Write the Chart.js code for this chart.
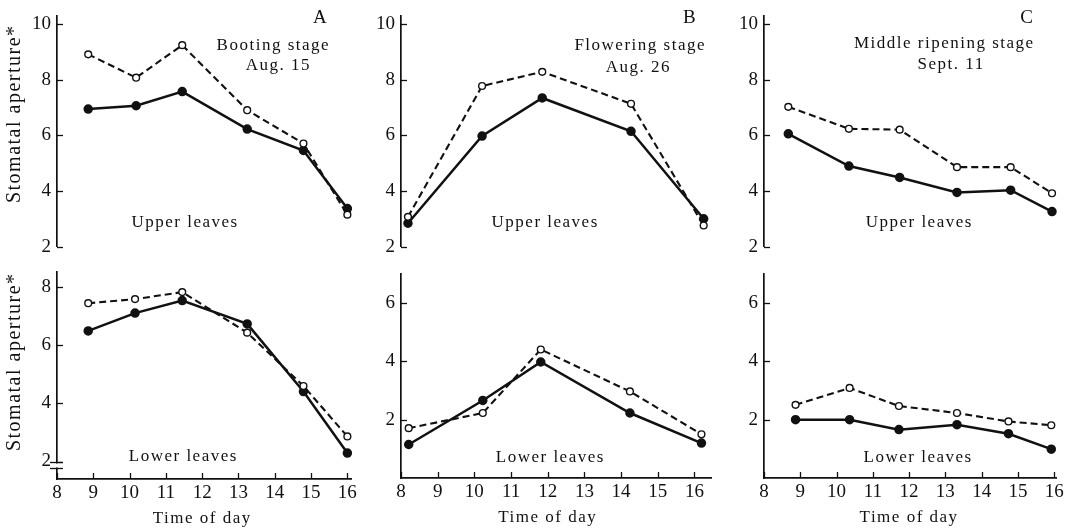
<!DOCTYPE html>
<html>
<head>
<meta charset="utf-8">
<script src="https://cdn.jsdelivr.net/npm/chart.js@4.4.1/dist/chart.umd.min.js"></script>
<style>
body { margin: 0; background: #fff; width: 1070px; height: 529px; position: relative; overflow: hidden; }
.panel { position: absolute; }
</style>
</head>
<body>
<div class="panel" id="pAU"><canvas id="cAU"></canvas></div>
<div class="panel" id="pAL"><canvas id="cAL"></canvas></div>
<div class="panel" id="pBU"><canvas id="cBU"></canvas></div>
<div class="panel" id="pBL"><canvas id="cBL"></canvas></div>
<div class="panel" id="pCU"><canvas id="cCU"></canvas></div>
<div class="panel" id="pCL"><canvas id="cCL"></canvas></div>
<script>
// tick labels
const xTicks = [8, 9, 10, 11, 12, 13, 14, 15, 16];
const yTicksUpper = [2, 4, 6, 8, 10];
const yTicksLowerA = [2, 4, 6, 8];
const yTicksLowerBC = [2, 4, 6];

// A - booting stage, Aug. 15
const timeAUp = [8.86, 10.18, 11.45, 13.24, 14.79, 16.0];
const openAUp = [8.92, 8.08, 9.25, 6.91, 5.71, 3.15];
const filledAUp = [6.95, 7.07, 7.58, 6.23, 5.46, 3.37];
const timeALow = [8.86, 10.15, 11.45, 13.24, 14.79, 16.0];
const openALow = [7.43, 7.57, 7.81, 6.42, 4.59, 2.86];
const filledALow = [6.48, 7.09, 7.52, 6.72, 4.40, 2.29];

// B - flowering stage, Aug. 26
const timeBUp = [8.19, 10.21, 11.85, 14.27, 16.25];
const openBUp = [3.07, 7.78, 8.29, 7.14, 2.76];
const filledBUp = [2.84, 5.98, 7.35, 6.15, 3.00];
const timeBLow = [8.21, 10.23, 11.81, 14.24, 16.19];
const openBLow = [1.71, 2.23, 4.41, 2.97, 1.50];
const filledBLow = [1.15, 2.66, 3.98, 2.23, 1.20];

// C - middle ripening stage, Sept. 11
const timeCUp = [8.67, 10.34, 11.74, 13.32, 14.80, 15.94];
const openCUp = [7.03, 6.24, 6.21, 4.86, 4.86, 3.92];
const filledCUp = [6.06, 4.90, 4.49, 3.95, 4.03, 3.26];
const timeCLow = [8.87, 10.36, 11.72, 13.32, 14.74, 15.92];
const openCLow = [2.51, 3.09, 2.47, 2.23, 1.94, 1.81];
const filledCLow = [2.00, 2.00, 1.66, 1.83, 1.52, 0.99];

const FONT = "'Liberation Serif', 'DejaVu Serif', serif";
const INK = "#111";
const ML = 60, MT = 20, MR = 20;

function pts(xs, ys) {
    return xs.map((x, i) => ({ x: x, y: ys[i] }));
}

const panelText = {
    id: "panelText",
    afterDraw(chart, args, o) {
        const ctx = chart.ctx;
        const xs = chart.scales.x, ys = chart.scales.y;
        const a = chart.chartArea;
        ctx.save();
        ctx.strokeStyle = INK;
        ctx.fillStyle = INK;
        ctx.lineWidth = 1.3;

        // inward ticks
        ys.ticks.forEach(t => {
            const py = Math.round(ys.getPixelForValue(t.value)) + 0.5;
            ctx.beginPath();
            ctx.moveTo(a.left, py);
            ctx.lineTo(a.left + 6, py);
            ctx.stroke();
        });
        if (o.lower) {
            xs.ticks.forEach(t => {
                const px = Math.round(xs.getPixelForValue(t.value)) + 0.5;
                ctx.beginPath();
                ctx.moveTo(px, a.bottom);
                ctx.lineTo(px, a.bottom - 6);
                ctx.stroke();
            });
        }

        // axis break
        if (o.breakAt) {
            const p1 = Math.round(ys.getPixelForValue(o.breakAt[0])) + 0.5;
            const p2 = Math.round(ys.getPixelForValue(o.breakAt[1])) + 0.5;
            ctx.fillStyle = "#fff";
            ctx.fillRect(a.left - 2, p1 + 1, 4, p2 - p1 - 2);
            ctx.fillStyle = INK;
            [p1, p2].forEach(p => {
                ctx.beginPath();
                ctx.moveTo(a.left - 7, p);
                ctx.lineTo(a.left + 6, p);
                ctx.stroke();
            });
        }

        ctx.letterSpacing = "1.5px";
        ctx.textAlign = "center";
        ctx.textBaseline = "middle";
        (o.notes || []).forEach(n => {
            ctx.font = (n.size || 17) + "px " + FONT;
            ctx.fillText(n.text, xs.getPixelForValue(n.x), ys.getPixelForValue(n.y));
        });

        if (o.lower) {
            ctx.font = "17px " + FONT;
            ctx.fillText("Time of day", xs.getPixelForValue(12), a.bottom + 40);
        }

        if (o.yTitle) {
            ctx.font = "20px " + FONT;
            ctx.translate(a.left - 42, ys.getPixelForValue(o.yTitle.at));
            ctx.rotate(-Math.PI / 2);
            ctx.fillText(o.yTitle.text, 0, 0);
        }
        ctx.restore();
    }
};

function makePanel(id, box, cfg) {
    const MB = cfg.lower ? 52 : 6;
    const div = document.getElementById("p" + id);
    div.style.left = (box.left - ML) + "px";
    div.style.top = (box.top - MT) + "px";
    div.style.width = (box.width + ML + MR) + "px";
    div.style.height = (box.height + MT + MB) + "px";

    const ctx = document.getElementById("c" + id);

    new Chart(ctx, {
        type: "line",
        data: {
            datasets: [
                {
                    data: pts(cfg.time, cfg.open),
                    borderColor: INK,
                    borderWidth: 2.1,
                    borderDash: [7, 4],
                    pointRadius: 3.4,
                    pointBackgroundColor: "#fff",
                    pointBorderColor: INK,
                    pointBorderWidth: 1.4,
                    tension: 0,
                    clip: false
                },
                {
                    data: pts(cfg.time, cfg.filled),
                    borderColor: INK,
                    borderWidth: 2.5,
                    pointRadius: 3.5,
                    pointBackgroundColor: INK,
                    pointBorderColor: INK,
                    tension: 0,
                    clip: false
                }
            ]
        },
        options: {
            responsive: true,
            maintainAspectRatio: false,
            animation: false,
            layout: {
                autoPadding: false,
                padding: { top: MT, right: MR, left: 0, bottom: cfg.lower ? 0 : MB }
            },
            plugins: {
                legend: { display: false },
                tooltip: { enabled: false },
                panelText: {
                    lower: cfg.lower,
                    notes: cfg.notes,
                    yTitle: cfg.yTitle,
                    breakAt: cfg.breakAt
                }
            },
            scales: {
                x: {
                    type: "linear",
                    min: 8,
                    max: cfg.xMax,
                    display: cfg.lower,
                    afterBuildTicks: s => { s.ticks = xTicks.map(v => ({ value: v })); },
                    afterFit: s => { if (cfg.lower) s.height = MB; },
                    grid: { display: false, drawTicks: false },
                    border: { display: true, color: INK, width: 1.7 },
                    ticks: {
                        color: INK,
                        font: { family: FONT, size: 19 },
                        padding: 3,
                        maxRotation: 0,
                        autoSkip: false
                    }
                },
                y: {
                    type: "linear",
                    min: cfg.yMin,
                    max: cfg.yMax,
                    afterBuildTicks: s => { s.ticks = cfg.yTicks.map(v => ({ value: v })); },
                    afterFit: s => { s.width = ML; },
                    grid: { display: false, drawTicks: false },
                    border: { display: true, color: INK, width: 1.7 },
                    ticks: {
                        color: INK,
                        font: { family: FONT, size: 19 },
                        padding: 6
                    }
                }
            }
        },
        plugins: [panelText]
    });
}

const upperTop = 16, upperH = 242;

makePanel("AU", { left: 57, top: upperTop, width: 294, height: upperH }, {
    time: timeAUp, open: openAUp, filled: filledAUp,
    xMax: 16.1, yMin: 2, yMax: 10.3, yTicks: yTicksUpper, lower: false,
    yTitle: { text: "Stomatal aperture*", at: 6.78 },
    notes: [
        { text: "A", x: 15.26, y: 10.24, size: 19 },
        { text: "Booting stage", x: 13.96, y: 9.25 },
        { text: "Aug. 15", x: 14.1, y: 8.53 },
        { text: "Upper leaves", x: 11.53, y: 2.88 }
    ]
});

makePanel("AL", { left: 57, top: 272, width: 294, height: 207 }, {
    time: timeALow, open: openALow, filled: filledALow,
    xMax: 16.1, yMin: 1.4, yMax: 8.5, yTicks: yTicksLowerA, lower: true,
    yTitle: { text: "Stomatal aperture*", at: 5.42 },
    breakAt: [1.97, 1.78],
    notes: [
        { text: "Lower leaves", x: 11.48, y: 2.17 }
    ]
});

makePanel("BU", { left: 401, top: upperTop, width: 310, height: upperH }, {
    time: timeBUp, open: openBUp, filled: filledBUp,
    xMax: 16.45, yMin: 2, yMax: 10.3, yTicks: yTicksUpper, lower: false,
    notes: [
        { text: "B", x: 15.88, y: 10.24, size: 19 },
        { text: "Flowering stage", x: 14.52, y: 9.25 },
        { text: "Aug. 26", x: 14.47, y: 8.46 },
        { text: "Upper leaves", x: 11.93, y: 2.88 }
    ]
});

makePanel("BL", { left: 401, top: 274, width: 310, height: 204 }, {
    time: timeBLow, open: openBLow, filled: filledBLow,
    xMax: 16.45, yMin: 0, yMax: 7, yTicks: yTicksLowerBC, lower: true,
    notes: [
        { text: "Lower leaves", x: 12.07, y: 0.71 }
    ]
});

makePanel("CU", { left: 764, top: upperTop, width: 292, height: upperH }, {
    time: timeCUp, open: openCUp, filled: filledCUp,
    xMax: 16.05, yMin: 2, yMax: 10.3, yTicks: yTicksUpper, lower: false,
    notes: [
        { text: "C", x: 15.26, y: 10.24, size: 19 },
        { text: "Middle ripening stage", x: 12.97, y: 9.32 },
        { text: "Sept. 11", x: 13.16, y: 8.56 },
        { text: "Upper leaves", x: 12.28, y: 2.88 }
    ]
});

makePanel("CL", { left: 764, top: 274, width: 292, height: 204 }, {
    time: timeCLow, open: openCLow, filled: filledCLow,
    xMax: 16.05, yMin: 0, yMax: 7, yTicks: yTicksLowerBC, lower: true,
    notes: [
        { text: "Lower leaves", x: 12.25, y: 0.71 }
    ]
});
</script>
</body>
</html>
